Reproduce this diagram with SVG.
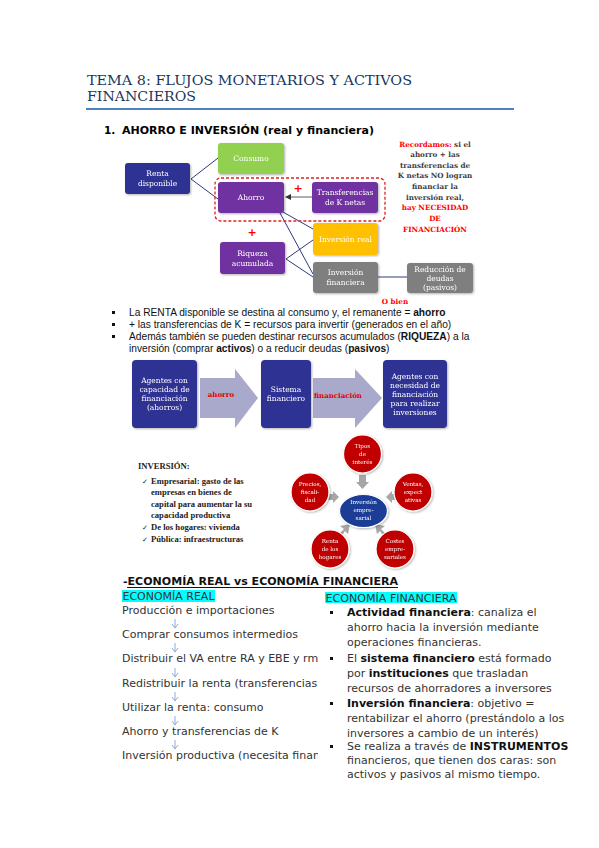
<svg xmlns="http://www.w3.org/2000/svg" width="599" height="848" viewBox="0 0 599 848">
<style>
.title{font-family:"DejaVu Serif",serif;font-size:13.5px;fill:#17365D;}
.h1{font-family:"DejaVu Sans",sans-serif;font-size:10.5px;font-weight:bold;fill:#000;}
.bx{font-family:"DejaVu Serif",serif;font-size:7.5px;fill:#fff;text-anchor:middle;}
.rt{font-family:"DejaVu Serif",serif;font-size:7.2px;font-weight:bold;fill:#404040;text-anchor:middle;}
.red{fill:#FF0000;}
.bul{font-family:"Liberation Sans",sans-serif;font-size:10.2px;fill:#111;}
.inv{font-family:"Liberation Serif",serif;font-size:8.6px;font-weight:bold;fill:#222;}
.ct{font-family:"DejaVu Serif",serif;font-size:5.6px;fill:#fff;text-anchor:middle;}
.body{font-family:"DejaVu Sans",sans-serif;font-size:11px;fill:#333;}
.b{font-weight:bold;fill:#111;}
.conn{stroke:#2F3A7A;stroke-width:1;fill:none;}
.darrow{stroke:#8EAADB;stroke-width:1;fill:none;}
.blue{fill:#2E3192;}
.purple{fill:#7030A0;}
</style>
<defs>
<marker id="ah" markerWidth="6" markerHeight="6" refX="5" refY="3" orient="auto" markerUnits="userSpaceOnUse">
<path d="M0,0 L6,3 L0,6 z" fill="#333"/>
</marker>
<filter id="sh" x="-20%" y="-20%" width="140%" height="140%">
<feDropShadow dx="1" dy="1" stdDeviation="0.8" flood-color="#000" flood-opacity="0.3"/>
</filter>
<clipPath id="leftclip"><rect x="0" y="600" width="318" height="200"/></clipPath>
</defs>

<g id="title">
<text class="title" x="87" y="85" textLength="325" lengthAdjust="spacingAndGlyphs">TEMA 8: FLUJOS MONETARIOS Y ACTIVOS</text>
<text class="title" x="87" y="101" textLength="109" lengthAdjust="spacingAndGlyphs">FINANCIEROS</text>
<line x1="86" y1="109" x2="514" y2="109" stroke="#4F81BD" stroke-width="2"/>
</g>

<g id="heading1">
<text class="h1" x="104" y="134">1.</text>
<text class="h1" x="122" y="134" textLength="252" lengthAdjust="spacingAndGlyphs">AHORRO E INVERSIÓN (real y financiera)</text>
</g>

<g id="connectors">
<polyline class="conn" points="218,158 191,179 218,199"/>
<line class="conn" x1="283" y1="212" x2="313" y2="229"/>
<line class="conn" x1="280" y1="213" x2="313" y2="274"/>
<polyline class="conn" points="313,240 286,259 313,277"/>
<line x1="312" y1="197" x2="286" y2="197" stroke="#333" stroke-width="0.8" marker-end="url(#ah)"/>
<line class="conn" x1="378" y1="277" x2="407" y2="277" stroke-width="1.3"/>
</g>

<g id="renta" filter="url(#sh)">
<rect x="125" y="163" width="65" height="31" rx="3" class="blue"/>
<text class="bx" x="157.5" y="176">Renta</text>
<text class="bx" x="157.5" y="186">disponible</text>
</g>
<g id="consumo" filter="url(#sh)">
<rect x="218" y="143" width="66" height="31" rx="3" fill="#92D050"/>
<text class="bx" x="251" y="161">Consumo</text>
</g>
<g id="grupo-ahorro">
<rect x="215" y="178" width="170" height="43" rx="6" fill="none" stroke="#E31E24" stroke-width="1.3" stroke-dasharray="3,2"/>
</g>
<g id="ahorro" filter="url(#sh)">
<rect x="218" y="182" width="66" height="31" rx="3" class="purple"/>
<text class="bx" x="251" y="200">Ahorro</text>
</g>
<g id="transferencias" filter="url(#sh)">
<rect x="312" y="182" width="66" height="31" rx="3" class="purple"/>
<text class="bx" x="345" y="195">Transferencias</text>
<text class="bx" x="345" y="205">de K netas</text>
</g>
<g id="plus1"><text x="298" y="192" font-family="DejaVu Sans,sans-serif" font-size="11" font-weight="bold" fill="#FF0000" text-anchor="middle">+</text></g>
<g id="plus2"><text x="252" y="236" font-family="DejaVu Sans,sans-serif" font-size="11" font-weight="bold" fill="#FF0000" text-anchor="middle">+</text></g>
<g id="riqueza" filter="url(#sh)">
<rect x="220" y="242" width="65" height="32" rx="3" class="purple"/>
<text class="bx" x="252.5" y="256">Riqueza</text>
<text class="bx" x="252.5" y="266">acumulada</text>
</g>
<g id="inversion-real" filter="url(#sh)">
<rect x="313" y="223" width="65" height="32" rx="3" fill="#FFC000"/>
<text class="bx" x="345.5" y="242">Inversión real</text>
</g>
<g id="inversion-financiera" filter="url(#sh)">
<rect x="313" y="262" width="65" height="31" rx="3" fill="#7F7F7F"/>
<text class="bx" x="345.5" y="275">Inversión</text>
<text class="bx" x="345.5" y="285">financiera</text>
</g>
<g id="reduccion" filter="url(#sh)">
<rect x="407" y="263" width="66" height="30" rx="3" fill="#7F7F7F"/>
<text class="bx" x="440" y="272">Reducción de</text>
<text class="bx" x="440" y="281">deudas</text>
<text class="bx" x="440" y="290">(pasivos)</text>
</g>
<g id="obien"><text class="rt red" x="395" y="304">O bien</text></g>

<g id="recordamos">
<text class="rt" x="435" y="147"><tspan class="red">Recordamos:</tspan> si el</text>
<text class="rt" x="435" y="157">ahorro + las</text>
<text class="rt" x="435" y="168">transferencias de</text>
<text class="rt" x="435" y="178">K netas NO logran</text>
<text class="rt" x="435" y="189">financiar la</text>
<text class="rt" x="435" y="200">inversión real,</text>
<text class="rt red" x="435" y="210">hay NECESIDAD</text>
<text class="rt red" x="435" y="221">DE</text>
<text class="rt red" x="435" y="232">FINANCIACIÓN</text>
</g>

<g id="bullets">
<rect x="112" y="311" width="3" height="3" fill="#111"/>
<rect x="112" y="323" width="3" height="3" fill="#111"/>
<rect x="112" y="335" width="3" height="3" fill="#111"/>
<text class="bul" x="129" y="316">La RENTA disponible se destina al consumo y, el remanente = <tspan font-weight="bold">ahorro</tspan></text>
<text class="bul" x="129" y="328">+ las transferencias de K = recursos para invertir (generados en el año)</text>
<text class="bul" x="129" y="340">Además también se pueden destinar recursos acumulados (<tspan font-weight="bold">RIQUEZA</tspan>) a la</text>
<text class="bul" x="129" y="352">inversión (comprar <tspan font-weight="bold">activos</tspan>) o a reducir deudas (<tspan font-weight="bold">pasivos</tspan>)</text>
</g>

<g id="flujo-arrow1">
<polygon points="200,378 235,378 235,369 258,398 235,428 235,418 200,418" fill="#A9A9CB"/>
<text x="221" y="397" font-family="DejaVu Serif,serif" font-size="7" font-weight="bold" fill="#E00000" text-anchor="middle">ahorro</text>
</g>
<g id="flujo-arrow2">
<polygon points="313,378 355,378 355,369 382,398 355,428 355,418 313,418" fill="#A9A9CB"/>
<text x="338" y="398" font-family="DejaVu Serif,serif" font-size="7" font-weight="bold" fill="#E00000" text-anchor="middle">financiación</text>
</g>
<g id="agentes-capacidad" filter="url(#sh)">
<rect x="132" y="360" width="65" height="68" rx="4" class="blue"/>
<text class="bx" x="164.5" y="383">Agentes con</text>
<text class="bx" x="164.5" y="392">capacidad de</text>
<text class="bx" x="164.5" y="401">financiación</text>
<text class="bx" x="164.5" y="410">(ahorros)</text>
</g>
<g id="sistema-financiero" filter="url(#sh)">
<rect x="261" y="360" width="50" height="68" rx="4" class="blue"/>
<text class="bx" x="286" y="392">Sistema</text>
<text class="bx" x="286" y="401">financiero</text>
</g>
<g id="agentes-necesidad" filter="url(#sh)">
<rect x="383" y="360" width="64" height="68" rx="4" class="blue"/>
<text class="bx" x="415" y="378.5">Agentes con</text>
<text class="bx" x="415" y="387.5">necesidad de</text>
<text class="bx" x="415" y="396.5">financiación</text>
<text class="bx" x="415" y="405.5">para realizar</text>
<text class="bx" x="415" y="414.5">inversiones</text>
</g>

<g id="inversion-texto">
<text class="inv" x="138" y="469">INVERSIÓN:</text>
<text class="inv" x="142" y="484"><tspan font-family="DejaVu Sans,sans-serif" font-weight="normal" font-size="7">✓</tspan></text>
<text class="inv" x="151" y="484">Empresarial: gasto de las</text>
<text class="inv" x="151" y="495">empresas en bienes de</text>
<text class="inv" x="151" y="507">capital para aumentar la su</text>
<text class="inv" x="151" y="518">capacidad productiva</text>
<text class="inv" x="142" y="530"><tspan font-family="DejaVu Sans,sans-serif" font-weight="normal" font-size="7">✓</tspan></text>
<text class="inv" x="151" y="530">De los hogares: vivienda</text>
<text class="inv" x="142" y="542"><tspan font-family="DejaVu Sans,sans-serif" font-weight="normal" font-size="7">✓</tspan></text>
<text class="inv" x="151" y="542">Pública: infraestructuras</text>
</g>

<g id="factores-arrows" fill="#A6A6A6">
<polygon points="359,475 366,475 366,482 369,482 362.5,489 356,482 359,482"/>
<polygon points="398,494 398,500 392,500 392,503 386,497 392,491 392,494"/>
<polygon points="327,494 327,500 333,500 333,503 339,497 333,491 333,494"/>
<polygon points="339,534 344,529 340,526 350,524 348,534 345,531 341,537"/>
<polygon points="386,534 381,529 385,526 375,524 377,534 380,531 384,537"/>
</g>
<g id="inversion-empresarial" filter="url(#sh)">
<ellipse cx="363.5" cy="511" rx="24" ry="16.5" fill="#1F3C96" stroke="#fff" stroke-width="1.2"/>
<text class="ct" x="363.5" y="504">Inversión</text>
<text class="ct" x="363.5" y="512">empre-</text>
<text class="ct" x="363.5" y="520">sarial</text>
</g>
<g id="tipos-interes" filter="url(#sh)">
<circle cx="362.5" cy="454" r="19" fill="#C00000" stroke="#fff" stroke-width="1.2"/>
<text class="ct" x="362.5" y="448">Tipos</text>
<text class="ct" x="362.5" y="456">de</text>
<text class="ct" x="362.5" y="464">interés</text>
</g>
<g id="ventas" filter="url(#sh)">
<circle cx="413" cy="492" r="19" fill="#C00000" stroke="#fff" stroke-width="1.2"/>
<text class="ct" x="413" y="486">Ventas,</text>
<text class="ct" x="413" y="494">expect</text>
<text class="ct" x="413" y="502">ativas</text>
</g>
<g id="precios" filter="url(#sh)">
<circle cx="310" cy="492" r="19" fill="#C00000" stroke="#fff" stroke-width="1.2"/>
<text class="ct" x="310" y="486">Precios,</text>
<text class="ct" x="310" y="494">fiscali-</text>
<text class="ct" x="310" y="502">dad</text>
</g>
<g id="renta-hogares" filter="url(#sh)">
<circle cx="330" cy="549" r="19" fill="#C00000" stroke="#fff" stroke-width="1.2"/>
<text class="ct" x="330" y="543">Renta</text>
<text class="ct" x="330" y="551">de los</text>
<text class="ct" x="330" y="559">hogares</text>
</g>
<g id="costes" filter="url(#sh)">
<circle cx="395" cy="549" r="19" fill="#C00000" stroke="#fff" stroke-width="1.2"/>
<text class="ct" x="395" y="543">Costes</text>
<text class="ct" x="395" y="551">empre-</text>
<text class="ct" x="395" y="559">sariales</text>
</g>

<g id="seccion">
<text x="123" y="585" font-family="DejaVu Sans,sans-serif" font-size="11" font-weight="bold" fill="#111" textLength="275" lengthAdjust="spacingAndGlyphs">-ECONOMÍA REAL vs ECONOMÍA FINANCIERA</text>
<line x1="127" y1="587.5" x2="398" y2="587.5" stroke="#111" stroke-width="1"/>
</g>

<g id="economia-real">
<rect x="122" y="590" width="93" height="12" fill="#00FFFF"/>
<text class="body" x="122.5" y="600" fill="#111" textLength="92" lengthAdjust="spacingAndGlyphs">ECONOMÍA REAL</text>
<g clip-path="url(#leftclip)">
<text class="body" x="122" y="614">Producción e importaciones</text>
<text class="body" x="122" y="638">Comprar consumos intermedios</text>
<text class="body" x="122" y="662">Distribuir el VA entre RA y EBE y rmx</text>
<text class="body" x="122" y="687">Redistribuir la renta (transferencias)</text>
<text class="body" x="122" y="711">Utilizar la renta: consumo</text>
<text class="body" x="122" y="735">Ahorro y transferencias de K</text>
<text class="body" x="122" y="759">Inversión productiva (necesita financiación)</text>
</g>
<g id="flechas-real" class="darrow">
<path d="M175,619 V628 M172,624 L175,628 L178,624"/>
<path d="M175,643 V652 M172,648 L175,652 L178,648"/>
<path d="M175,668 V677 M172,673 L175,677 L178,673"/>
<path d="M175,692 V701 M172,697 L175,701 L178,697"/>
<path d="M175,716 V725 M172,721 L175,725 L178,721"/>
<path d="M175,740 V749 M172,745 L175,749 L178,745"/>
</g>
</g>

<g id="economia-financiera">
<rect x="325" y="592" width="132" height="11" fill="#00FFFF"/>
<text class="body" x="325.5" y="601.5" fill="#111" textLength="131" lengthAdjust="spacingAndGlyphs">ECONOMÍA FINANCIERA</text>
<rect x="330" y="611" width="3" height="3" fill="#111"/>
<rect x="330" y="657" width="3" height="3" fill="#111"/>
<rect x="330" y="702" width="3" height="3" fill="#111"/>
<rect x="330" y="745" width="3" height="3" fill="#111"/>
<text class="body" x="347" y="616"><tspan class="b">Actividad financiera</tspan>: canaliza el</text>
<text class="body" x="347" y="631">ahorro hacia la inversión mediante</text>
<text class="body" x="347" y="646">operaciones financieras.</text>
<text class="body" x="347" y="662">El <tspan class="b">sistema financiero</tspan> está formado</text>
<text class="body" x="347" y="677">por <tspan class="b">instituciones</tspan> que trasladan</text>
<text class="body" x="347" y="692">recursos de ahorradores a inversores</text>
<text class="body" x="347" y="707"><tspan class="b">Inversión financiera</tspan>: objetivo =</text>
<text class="body" x="347" y="722">rentabilizar el ahorro (prestándolo a los</text>
<text class="body" x="347" y="737">inversores a cambio de un interés)</text>
<text class="body" x="347" y="750">Se realiza a través de <tspan class="b">INSTRUMENTOS</tspan></text>
<text class="body" x="347" y="764">financieros, que tienen dos caras: son</text>
<text class="body" x="347" y="778">activos y pasivos al mismo tiempo.</text>
</g>
</svg>
